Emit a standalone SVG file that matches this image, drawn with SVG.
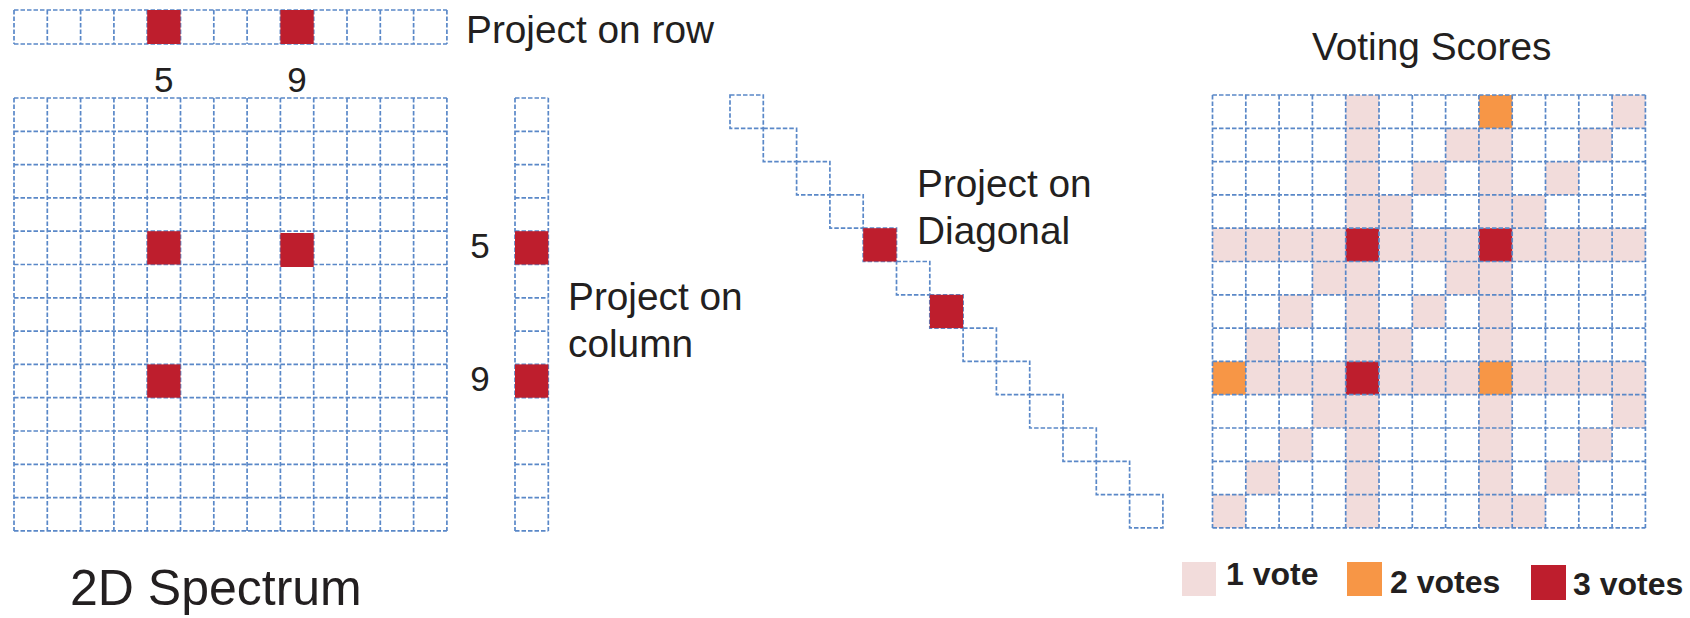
<svg xmlns="http://www.w3.org/2000/svg" xmlns:xlink="http://www.w3.org/1999/xlink" width="1690" height="618" viewBox="0 0 1690 618">
<style>
.grid{fill:none;stroke:#5a88c8;stroke-width:1.7;stroke-dasharray:4.5 2}
.txt{font-family:"Liberation Sans",Arial,Helvetica,sans-serif;fill:#231f20}
.lbl{font-size:38.8px}
.num{font-size:35px}
.leg{font-size:32px;font-weight:bold}
.red{fill:#be1e2d}
.org{fill:#f79646}
.pnk{fill:#f2dcdb}
</style>
<defs>
<path id="grid13" d="M0 0H432.9M0 33.3H432.9M0 66.6H432.9M0 99.9H432.9M0 133.2H432.9M0 166.5H432.9M0 199.8H432.9M0 233.1H432.9M0 266.4H432.9M0 299.7H432.9M0 333H432.9M0 366.3H432.9M0 399.6H432.9M0 432.9H432.9M0 0V432.9M33.3 0V432.9M66.6 0V432.9M99.9 0V432.9M133.2 0V432.9M166.5 0V432.9M199.8 0V432.9M233.1 0V432.9M266.4 0V432.9M299.7 0V432.9M333 0V432.9M366.3 0V432.9M399.6 0V432.9M432.9 0V432.9"/>
<rect id="dcell" width="33.3" height="33.3"/>
</defs>
<rect width="1690" height="618" fill="#ffffff"/>
<g id="connectors"/>

<g id="row-projection">
<path class="grid" transform="translate(14,10)" d="M0 0H432.9M0 34H432.9M0 0V34M33.3 0V34M66.6 0V34M99.9 0V34M133.2 0V34M166.5 0V34M199.8 0V34M233.1 0V34M266.4 0V34M299.7 0V34M333 0V34M366.3 0V34M399.6 0V34M432.9 0V34"/>
<rect class="red" x="147.2" y="10" width="33.3" height="34"/>
<rect class="red" x="280.4" y="10" width="33.3" height="34"/>
<text class="txt lbl" x="466" y="43">Project on row</text>
<text class="txt num" x="163.8" y="92" text-anchor="middle">5</text>
<text class="txt num" x="297" y="92" text-anchor="middle">9</text>
</g>

<g id="spectrum-2d">
<use href="#grid13" class="grid" x="14" y="98"/>
<rect class="red" x="147.2" y="231.2" width="33.3" height="33.3"/>
<rect class="red" x="280.4" y="233" width="33.3" height="34"/>
<rect class="red" x="147.2" y="364.4" width="33.3" height="33.3"/>
<text class="txt" x="70" y="605" font-size="50">2D Spectrum</text>
</g>

<g id="column-projection">
<path class="grid" transform="translate(515,98)" d="M0 0V432.9M33.3 0V432.9M0 0H33.3M0 33.3H33.3M0 66.6H33.3M0 99.9H33.3M0 133.2H33.3M0 166.5H33.3M0 199.8H33.3M0 233.1H33.3M0 266.4H33.3M0 299.7H33.3M0 333H33.3M0 366.3H33.3M0 399.6H33.3M0 432.9H33.3"/>
<rect class="red" x="515" y="231.2" width="33.3" height="33.3"/>
<rect class="red" x="515" y="364.4" width="33.3" height="33.3"/>
<text class="txt num" x="480" y="258" text-anchor="middle">5</text>
<text class="txt num" x="480" y="391" text-anchor="middle">9</text>
<text class="txt lbl" x="568"><tspan x="568" y="310">Project on</tspan><tspan x="568" y="357">column</tspan></text>
</g>

<g id="diagonal-projection">
<g class="grid">
<use href="#dcell" x="730" y="95"/>
<use href="#dcell" x="763.3" y="128.3"/>
<use href="#dcell" x="796.6" y="161.6"/>
<use href="#dcell" x="829.9" y="194.9"/>
<use href="#dcell" x="863.2" y="228.2"/>
<use href="#dcell" x="896.5" y="261.5"/>
<use href="#dcell" x="929.8" y="294.8"/>
<use href="#dcell" x="963.1" y="328.1"/>
<use href="#dcell" x="996.4" y="361.4"/>
<use href="#dcell" x="1029.7" y="394.7"/>
<use href="#dcell" x="1063" y="428"/>
<use href="#dcell" x="1096.3" y="461.3"/>
<use href="#dcell" x="1129.6" y="494.6"/>
</g>
<rect class="red" x="863.2" y="228.2" width="33.3" height="33.3"/>
<rect class="red" x="929.8" y="294.8" width="33.3" height="33.3"/>
<text class="txt lbl" x="917"><tspan x="917" y="197">Project on</tspan><tspan x="917" y="244">Diagonal</tspan></text>
</g>

<g id="voting-scores">
<text class="txt lbl" x="1312" y="60">Voting Scores</text>
<g transform="translate(1212.5,95) scale(33.3)">
<path class="pnk" d="M0 4h13v1H0zM0 8h13v1H0zM4 0h1v13H4zM8 0h1v13H8zM7 1h1v1h-1zM6 2h1v1h-1zM5 3h1v1h-1zM3 5h1v1h-1zM2 6h1v1h-1zM1 7h1v1h-1zM12 0h1v1h-1zM11 1h1v1h-1zM10 2h1v1h-1zM9 3h1v1h-1zM7 5h1v1h-1zM6 6h1v1h-1zM5 7h1v1h-1zM3 9h1v1h-1zM2 10h1v1h-1zM1 11h1v1h-1zM0 12h1v1h-1zM12 9h1v1h-1zM11 10h1v1h-1zM10 11h1v1h-1zM9 12h1v1h-1z"/>
<path class="org" d="M8 0h1v1h-1zM0 8h1v1H0zM8 8h1v1h-1z"/>
<path class="red" d="M4 4h1v1h-1zM8 4h1v1h-1zM4 8h1v1h-1z"/>
</g>
<use href="#grid13" class="grid" x="1212.5" y="95"/>
</g>

<g id="legend">
<rect class="pnk" x="1182" y="562" width="34" height="34"/>
<text class="txt leg" x="1226" y="585">1 vote</text>
<rect class="org" x="1347" y="562" width="35" height="34"/>
<text class="txt leg" x="1390" y="593">2 votes</text>
<rect class="red" x="1531" y="565" width="35" height="35"/>
<text class="txt leg" x="1573" y="595">3 votes</text>
</g>
</svg>
